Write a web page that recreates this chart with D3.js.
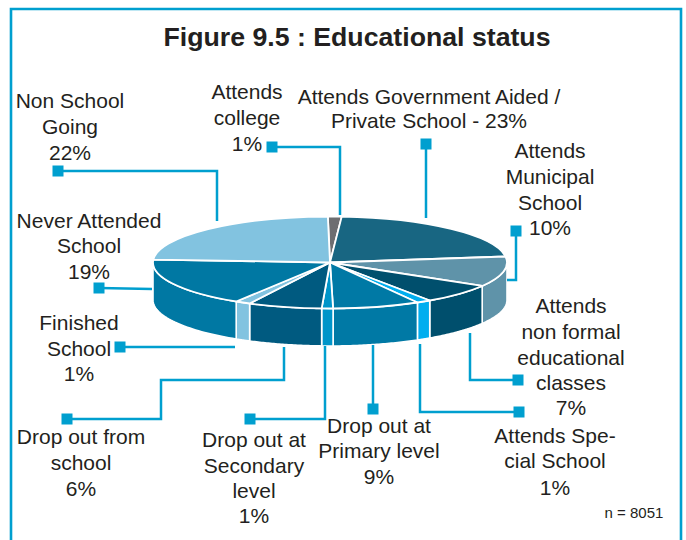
<!DOCTYPE html>
<html><head><meta charset="utf-8">
<script src="https://cdn.jsdelivr.net/npm/d3@7"></script>
<style>html,body{margin:0;padding:0;background:#fff}svg{display:block}text{font-family:"Liberation Sans",Arial,sans-serif;fill:#231f20;text-anchor:middle}</style>
</head><body><svg id="c" width="686" height="540"></svg>
<script>
const title = "Figure 9.5 : Educational status";
const note = "n = 8051";
const categories = ["Attends college","Attends Government Aided / Private School","Attends Municipal School","Attends non formal educational classes","Attends Special School","Drop out at Primary level","Drop out at Secondary level","Drop out from school","Finished School","Never Attended School","Non School Going"];
// Percentages as printed in the labels
const printedPercent = [1,23,10,7,1,9,1,6,1,19,22];
// Slice sizes as drawn in the picture (degrees of sweep); the original artwork is not exactly proportional to its labels
const drawnSweep = [4.5,78.7,38.2,25,4.7,28.6,3.7,24.3,5,61.7,85.6];
const sliceColors = ["#6d6e71","#186682","#5f93a9","#004f6d","#00aeef","#0079a5","#0095c9","#005a80","#82c3e0","#0078a3","#82c3e0"];
const labelLines = [
 ["Attends","college","{p}%"],
 ["Attends Government Aided /","Private School - {p}%"],
 ["Attends","Municipal","School","{p}%"],
 ["Attends","non formal","educational","classes","{p}%"],
 ["Attends Spe-","cial School","{p}%"],
 ["Drop out at","Primary level","{p}%"],
 ["Drop out at","Secondary","level","{p}%"],
 ["Drop out from","school","{p}%"],
 ["Finished","School","{p}%"],
 ["Never Attended","School","{p}%"],
 ["Non School","Going","{p}%"]
];

// Layout
const cx=330, cy=262.5, rx=177, ry=46, depth=37.5, startDeg=-0.7;
const labelPos = [[247,[99,125,151]],[429,[104,128]],[550,[158,184,210,235]],[571,[313,339,365,390,415]],[555,[443,468,495]],[379,[433,458,484]],[254,[447,473,498,523]],[81,[444,470,496]],[79,[330,356,381]],[89,[228,253,279]],[70,[108,134,160]]];
const leaders = [
 [[272,147],[340,147],[340,215]],
 [[426,144],[426,218]],
 [[516,231],[516,280],[507,280]],
 [[518,380],[470,380],[470,333]],
 [[519,412],[420,412],[420,344]],
 [[373,409],[373,345]],
 [[250,419],[325,419],[325,346]],
 [[67,419],[161,419],[161,380],[284,380],[284,347]],
 [[120,347],[235,347]],
 [[99,288],[152,289]],
 [[58,171],[217,171],[217,221]]
];
const accent="#009fcf";
const svg=d3.select("#c");

svg.append("path").attr("d","M11,540V9H681V540").attr("fill","none").attr("stroke",accent).attr("stroke-width",2.6);
svg.append("text").attr("x",357).attr("y",46).attr("font-size",26.7).attr("font-weight","bold").text(title);
svg.append("text").attr("x",634).attr("y",518).attr("font-size",15).text(note);

const rad=d=>d*Math.PI/180;
const pie=d3.pie().sort(null).value(d=>d).startAngle(rad(startDeg)).endAngle(rad(startDeg+360));
const arcs=pie(drawnSweep);
const px=d3.scaleLinear().domain([-1,1]).range([cx-rx,cx+rx]);
const py=d3.scaleLinear().domain([-1,1]).range([cy-ry,cy+ry]);
const rim=(a,dy)=>[px(Math.sin(a)),py(-Math.cos(a))+dy];
const line=d3.line();

// Side walls: only the front half of the rim is visible
const walls=svg.append("g");
arcs.forEach((d,i)=>{
  const a0=Math.max(d.startAngle,Math.PI/2), a1=Math.min(d.endAngle,Math.PI*1.5);
  if(a1<=a0) return;
  const ts=d3.range(0,41).map(k=>a0+(a1-a0)*k/40);
  const pts=ts.map(t=>rim(t,0)).concat(ts.slice().reverse().map(t=>rim(t,depth)));
  walls.append("path").attr("d",line(pts)+"Z").attr("fill",sliceColors[i]).attr("stroke","#fff").attr("stroke-width",1.6).attr("stroke-linejoin","round");
});

// Top faces
const arc=d3.arc().innerRadius(0).outerRadius(rx);
svg.append("g").attr("transform",`translate(${cx},${cy}) scale(1,${ry/rx})`)
  .selectAll("path").data(arcs).join("path").attr("d",arc)
  .attr("fill",(d,i)=>sliceColors[i]).attr("stroke","#fff").attr("stroke-width",1.8)
  .attr("vector-effect","non-scaling-stroke").attr("stroke-linejoin","round");

// Leaders
const lg=svg.append("g");
leaders.forEach(pts=>{
  lg.append("path").attr("d",line(pts)).attr("fill","none").attr("stroke",accent).attr("stroke-width",2.5);
  lg.append("rect").attr("x",pts[0][0]-5.5).attr("y",pts[0][1]-5.5).attr("width",11).attr("height",11).attr("fill",accent);
});

// Labels
labelLines.forEach((lines,i)=>{
  const [x,ys]=labelPos[i];
  lines.forEach((t,j)=>svg.append("text").attr("x",x).attr("y",ys[j]).attr("font-size",21).text(t.replace("{p}",printedPercent[i])));
});
</script></body></html>
